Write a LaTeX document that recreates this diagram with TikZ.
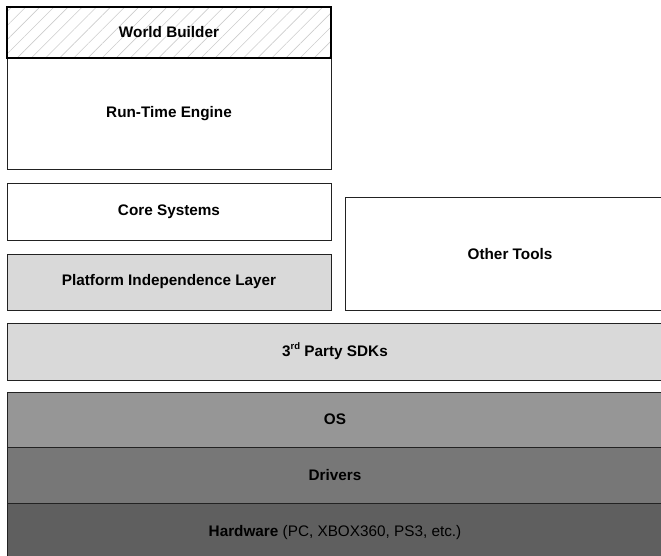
\documentclass[tikz,border=0pt]{standalone}
\usepackage{fontspec}
\setmainfont{Liberation Sans}
\usetikzlibrary{patterns.meta}
\definecolor{lightg}{HTML}{D9D9D9}
\definecolor{osg}{HTML}{969696}
\definecolor{drvg}{HTML}{777777}
\definecolor{hwg}{HTML}{5F5F5F}
\definecolor{edge}{HTML}{222222}
\tikzset{
  layer/.style={draw=edge, line width=1pt, inner sep=0pt, outer sep=0pt,
    font=\fontsize{15.3}{18}\selectfont\bfseries, text=black},
}
\begin{document}
\begin{tikzpicture}[x=1pt,y=-1pt]
\useasboundingbox (0,0) rectangle (661,556);
\clip (0,0) rectangle (661,556);
\node[layer, fill=white, minimum width=324pt, minimum height=112pt] (rte) at (169,114) {Run-Time Engine};
\node[layer, line width=2pt, draw=black, fill=white,
  pattern={Lines[angle=45,distance=10pt,line width=0.6pt]}, pattern color=gray!40,
  minimum width=324pt, minimum height=51pt] (wbbg) at (169,32.5) {};
\node[layer, draw=none, fill=none] (wb) at (169,32.5) {World Builder};
\node[layer, fill=white, minimum width=324pt, minimum height=56pt] (core) at (169,212) {Core Systems};
\node[layer, fill=lightg, minimum width=324pt, minimum height=56pt] (pil) at (169,282) {Platform Independence Layer};
\node[layer, fill=white, minimum width=330pt, minimum height=112pt] (other) at (510,254) {Other Tools};
\node[layer, fill=lightg, minimum width=656pt, minimum height=57pt] (sdk) at (335,351.5) {3\raisebox{0.45em}{\fontsize{9.5}{10}\selectfont rd} Party SDKs};
\node[layer, fill=osg, minimum width=656pt, minimum height=55pt] (os) at (335,419.5) {OS};
\node[layer, fill=drvg, minimum width=656pt, minimum height=56pt] (drv) at (335,475) {Drivers};
\node[layer, fill=hwg, minimum width=656pt, minimum height=60pt] (hw) at (335,533) {Hardware \mdseries(PC, XBOX360, PS3, etc.)};
\end{tikzpicture}
\end{document}
